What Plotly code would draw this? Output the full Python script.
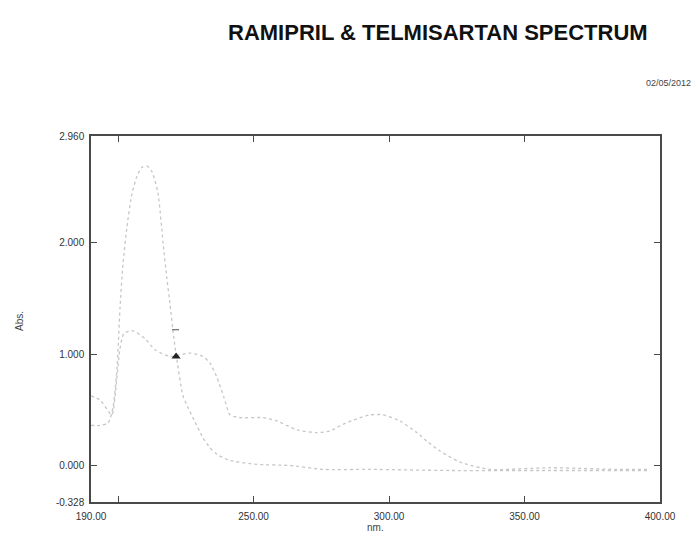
import plotly.graph_objects as go

# Curve with the large ~210 nm band
wl_a = [190, 193.3, 196.3, 198.1, 199.6, 200.7, 201.8, 203.3, 205.1, 207, 208.8, 210.7, 212.5,
        214.7, 216.6, 218, 219.2, 220.6, 221.7, 223.9, 225.8, 227.6, 231.3, 233.9, 236.5, 241.3,
        251.3, 263.4, 275.6, 293, 322.5, 359.4, 396.3]
abs_a = [0.36, 0.36, 0.38, 0.52, 0.875, 1.41, 1.81, 2.15, 2.44, 2.6, 2.68, 2.69, 2.64,
         2.45, 2.0, 1.68, 1.44, 1.14, 0.95, 0.63, 0.52, 0.43, 0.25, 0.16, 0.10, 0.045,
         0.01, 0.0, -0.035, -0.035, -0.045, -0.045, -0.045]

# Curve with the ~296 nm band
wl_b = [190, 193.3, 197.7, 199.2, 200.7, 202.2, 205.5, 209.9, 213.6, 219.2, 226.5, 231.3, 233.9,
        236.5, 239.1, 241.3, 245, 253.5, 258.6, 266, 273.4, 278.2, 283, 288.2, 293, 297.7, 304,
        310.3, 314.4, 318.8, 326.2, 337.2, 359.4, 384.1, 396.3]
abs_b = [0.625, 0.59, 0.455, 0.70, 1.05, 1.19, 1.21, 1.14, 1.04, 0.98, 1.01, 0.98, 0.92,
         0.79, 0.61, 0.455, 0.43, 0.43, 0.40, 0.32, 0.295, 0.31, 0.37, 0.42, 0.455, 0.455, 0.40,
         0.295, 0.21, 0.13, 0.03, -0.035, -0.02, -0.035, -0.035]

marker_wl = [221.4]
marker_abs = [0.98]
dash_wl = [221.2]
dash_abs = [1.22]

x_tickvals = [190, 200, 250, 300, 350, 400]
x_ticktext = ["190.00", "", "250.00", "300.00", "350.00", "400.00"]
y_tickvals = [-0.328, 0, 1, 2, 2.96]
y_ticktext = ["-0.328", "0.000", "1.000", "2.000", "2.960"]

line_style = dict(color="#c6c6c6", width=1.3, dash="dot", shape="spline", smoothing=0.6)

fig = go.Figure()
fig.add_trace(go.Scatter(x=wl_a, y=abs_a, mode="lines", line=line_style, showlegend=False))
fig.add_trace(go.Scatter(x=wl_b, y=abs_b, mode="lines", line=line_style, showlegend=False))
fig.add_trace(go.Scatter(x=marker_wl, y=marker_abs, mode="markers",
                         marker=dict(symbol="triangle-up", size=8, color="#222"), showlegend=False))
fig.add_trace(go.Scatter(x=dash_wl, y=dash_abs, mode="markers",
                         marker=dict(symbol="line-ew", size=5, line=dict(color="#777", width=1.3)),
                         showlegend=False))

axis_common = dict(showline=True, linecolor="#4a4a4a", linewidth=1.5, mirror="ticks",
                   ticks="inside", ticklen=6, tickcolor="#4a4a4a", tickwidth=1.3,
                   showgrid=False, zeroline=False,
                   tickfont=dict(family="Liberation Sans, Arial, sans-serif", size=10, color="#333"))

fig.update_xaxes(range=[190, 400], tickvals=x_tickvals, ticktext=x_ticktext,
                 ticklabelstandoff=4, **axis_common)
fig.update_yaxes(range=[-0.328, 2.96], tickvals=y_tickvals, ticktext=y_ticktext,
                 ticklabelstandoff=3, **axis_common)

fig.update_layout(
    width=695, height=534,
    margin=dict(l=91, r=35, t=136, b=30),
    paper_bgcolor="white", plot_bgcolor="white",
    annotations=[
        dict(text="<b>RAMIPRIL &amp; TELMISARTAN SPECTRUM</b>", xref="paper", yref="paper",
             x=(438 - 91) / 569, y=(504 - 32) / 368, xanchor="center", yanchor="middle",
             showarrow=False, font=dict(family="Liberation Sans, Arial, sans-serif", size=22, color="#111")),
        dict(text="02/05/2012", xref="paper", yref="paper",
             x=(693 - 91) / 569, y=(504 - 83) / 368, xanchor="right", yanchor="middle",
             showarrow=False, font=dict(family="Liberation Sans, Arial, sans-serif", size=9, color="#444")),
        dict(text="Abs.", xref="paper", yref="paper", textangle=-90,
             x=(20 - 91) / 569, y=(504 - 322) / 368, xanchor="center", yanchor="middle",
             showarrow=False, font=dict(family="Liberation Sans, Arial, sans-serif", size=10, color="#444")),
        dict(text="nm.", xref="paper", yref="paper",
             x=(375 - 91) / 569, y=(504 - 530) / 368, xanchor="center", yanchor="middle",
             showarrow=False, font=dict(family="Liberation Sans, Arial, sans-serif", size=10, color="#444")),
    ],
)

fig.write_html("out.html")
